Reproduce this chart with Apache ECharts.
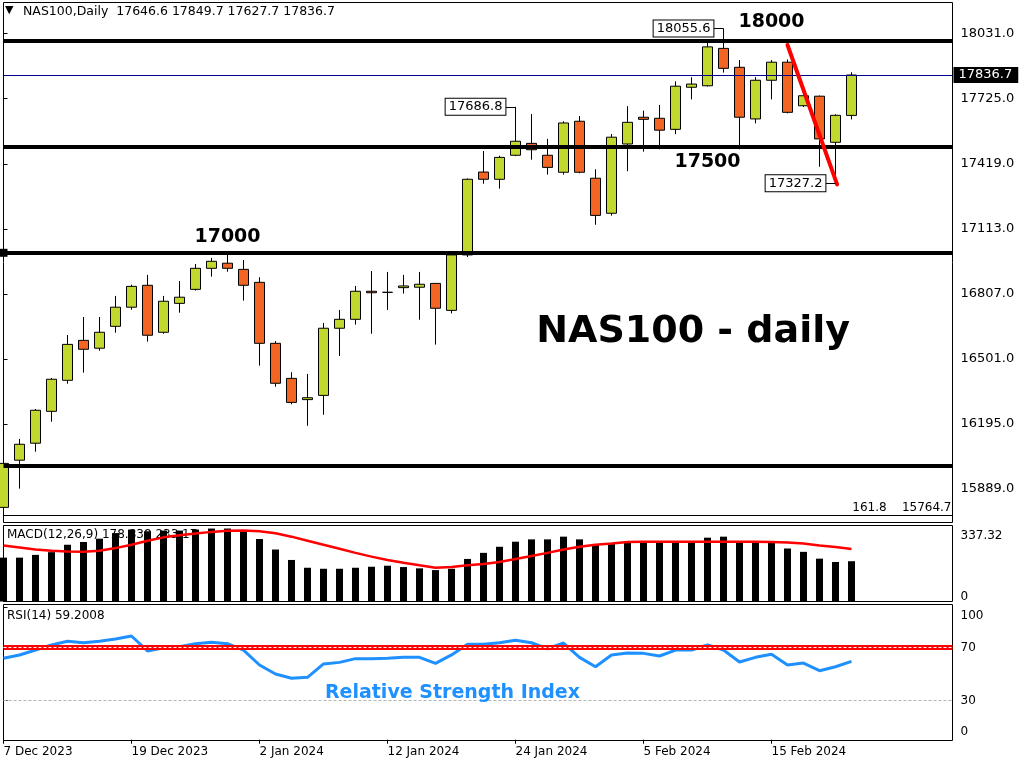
<!DOCTYPE html>
<html><head><meta charset="utf-8">
<script src="https://cdn.jsdelivr.net/npm/echarts@6/dist/echarts.min.js"></script>
<style>html,body{margin:0;padding:0;background:#fff;}#c{width:1024px;height:768px;}</style>
</head><body><div id="c"></div>
<script>
// ---------------- data ----------------
const dates = ['7 Dec 2023','8 Dec 2023','11 Dec 2023','12 Dec 2023','13 Dec 2023','14 Dec 2023','15 Dec 2023','18 Dec 2023',
 '19 Dec 2023','20 Dec 2023','21 Dec 2023','22 Dec 2023','26 Dec 2023','27 Dec 2023','28 Dec 2023','29 Dec 2023',
 '2 Jan 2024','3 Jan 2024','4 Jan 2024','5 Jan 2024','8 Jan 2024','9 Jan 2024','10 Jan 2024','11 Jan 2024',
 '12 Jan 2024','15 Jan 2024','16 Jan 2024','17 Jan 2024','18 Jan 2024','19 Jan 2024','22 Jan 2024','23 Jan 2024',
 '24 Jan 2024','25 Jan 2024','26 Jan 2024','29 Jan 2024','30 Jan 2024','31 Jan 2024','1 Feb 2024','2 Feb 2024',
 '5 Feb 2024','6 Feb 2024','7 Feb 2024','8 Feb 2024','9 Feb 2024','12 Feb 2024','13 Feb 2024','14 Feb 2024',
 '15 Feb 2024','16 Feb 2024','19 Feb 2024','20 Feb 2024','21 Feb 2024','22 Feb 2024'];
const opens  = [15802,16024,16104,16254,16400,16588,16551,16654,16744,16847,16626,16762,16828,16927,16951,16922,
 16861,16574,16409,16309,16329,16645,16687,16819,16814,16836,16838,16856,16729,16990,17380,17346,
 17459,17515,17459,17379,17619,17351,17186,17512,17638,17633,17581,17779,17786,17962,17873,17630,
 17812,17897,17692,17737,17520,17646.6];
const highs  = [16059,16124,16265,16411,16613,16698,16698,16797,16850,16896,16797,16867,16947,16976,16998,16966,
 16885,16585,16438,16430,16670,16731,16844,16914,16910,16896,16910,16858,16995,17350,17479,17457,
 17686.8,17653,17536,17619,17644,17393,17559,17690,17669,17696,17807,17826,17989,18055.6,17907,17827,
 17907,17910,17766,17740,17652,17849.7];
const lows   = [15790,15890,16064,16205,16384,16436,16539,16624,16732,16582,16619,16718,16822,16888,16911,16775,
 16469,16370,16287,16186,16238,16514,16662,16619,16731,16808,16685,16568,16715,16980,17325,17302,
 17455,17438,17368,17368,17374,17132,17175,17384,17476,17487,17558,17722,17782,17848,17487,17609,
 17722,17656,17686,17405,17327.2,17627.7];
const closes = [16009,16099,16259,16405,16569,16546,16626,16744,16842,16612,16772,16791,16927,16960,16927,16847,
 16574,16386,16296,16318,16645,16687,16819,16812,16814,16844,16852,16739,16990,17346,17346,17449,
 17525,17485,17402,17611,17379,17176,17544,17614,17628,17577,17784,17794,17969,17868,17638,17812,
 17897,17661,17739,17536,17647,17836.7];
const macdHist = [194.7,194.7,206.9,219.0,251.9,264.0,278.9,303.6,319.3,311.7,314.8,314.8,319.3,323.8,323.8,309.0,
 277.5,230.7,184.4,149.8,145.3,145.3,149.8,154.3,158.8,152.9,147.1,139.4,145.3,188.9,215.9,242.9,
 265.4,275.7,275.7,287.8,275.7,255.0,256.4,264.0,264.0,264.0,264.0,264.0,283.3,287.8,264.0,264.0,
 264.0,235.2,220.4,190.2,175.4,178.8];
const macdSignal = [248.7,239.7,230.7,224.9,221.7,220.4,224.9,237.0,251.9,269.9,284.7,293.7,301.3,309.0,313.5,314.8,
 311.7,302.7,287.8,269.9,251.9,233.9,215.9,199.2,184.4,172.3,160.6,149.8,152.9,160.6,166.4,175.4,
 188.9,202.4,215.9,230.7,242.9,251.9,257.7,264.0,265.4,265.4,265.4,265.4,265.4,265.4,265.4,265.4,
 264.0,262.2,257.7,248.7,241.5,233.2];
const rsi = [61.5,64.0,67.7,71.5,74.3,73.2,74.3,76.0,78.3,67.0,69.5,70.2,72.5,73.5,72.5,67.7,
 56.4,49.6,46.4,47.1,57.2,58.4,61.2,61.2,61.5,62.2,62.2,57.7,64.0,72.0,72.0,73.2,
 75.1,73.2,68.7,73.0,62.2,55.1,64.0,65.5,65.2,63.2,67.7,67.7,71.5,67.7,58.7,62.2,
 64.5,56.4,57.9,52.1,55.1,59.2008];
const priceTicks = [15889,16195,16501,16807,17113,17419,17725,18031];
const macdTicks = [0,337.32];
const rsiTicks = [0,30,70,100];
const rsiLevels = [70,30];
const dateTickIdx = [0,8,16,24,32,40,48];
const levels = [18000,17500,17000,16000];
const fibRatio = '161.8', fibPrice = 15764.7;
const trendLine = [[49,17978],[52.1,17322]];
const priceNotes = [[32,17686.8],[45,18055.6],[52,17327.2]];
const textNotes = [['18000',48.0,18084],['17500',44.0,17429],['17000',14.0,17072],['NAS100 - daily',43.1,16628]];
const rsiNote = ['Relative Strength Index',28.06,35];
const macdLegend = 'MACD(12,26,9) 178.838 233.17';
const rsiLegend = 'RSI(14) 59.2008';

// ---------------- chart ----------------
const N = dates.length;
const FONT = 'DejaVu Sans';
const PX_PER_BAR = 16, PLOT_W = 949;
const XMAX = PLOT_W / PX_PER_BAR;
const chart = echarts.init(document.getElementById('c'));

const gridBase = {left:3.5, width:PLOT_W, show:true, borderColor:'#000', borderWidth:1, backgroundColor:'transparent'};
const textStyle = {color:'#000', fontSize:12, fontFamily:FONT};

const bigSizes = {'18000':19,'17500':19,'17000':19,'NAS100 - daily':38};

const mlData = [];
levels.forEach(v => mlData.push({yAxis:v, lineStyle:{color:'#000', width:4, type:'solid'},
  symbol: v===17000 ? 'rect':'none', symbolSize: 8}));
mlData.push({yAxis: closes[N-1], lineStyle:{color:'#00008B', width:1, type:'solid'},
  label:{show:true, position:'end', formatter: closes[N-1].toFixed(1), backgroundColor:'#000', color:'#fff',
  padding:[2,6,1,5], distance:1, fontSize:13, fontFamily:FONT}});
mlData.push({yAxis: fibPrice, lineStyle:{color:'#000', width:1, type:'solid'},
  label:{show:true, position:'insideEndTop', formatter: fibRatio + '    ' + fibPrice.toFixed(1), color:'#000', distance:1, fontSize:12, fontFamily:FONT}});
mlData.push([{coord:trendLine[0]},{coord:trendLine[1], lineStyle:{color:'#ff0000', width:4, type:'solid', cap:'round'}}]);
priceNotes.forEach(([i,p]) => mlData.push([{coord:[i,p]},{coord:[i-0.6,p], lineStyle:{color:'#000', width:1, type:'solid'}}]));

const mpData = [];
textNotes.forEach(([t,i,p]) => mpData.push({coord:[i,p], value:t,
  label:{show:true, position:'inside', formatter:t, fontSize:bigSizes[t], fontWeight:'bold', fontFamily:FONT, color:'#000'}}));
priceNotes.forEach(([i,p]) => mpData.push({coord:[i-0.6,p], value:p,
  label:{show:true, position:'left', distance:0, formatter:p.toFixed(1), backgroundColor:'#fff', borderColor:'#000', borderWidth:1,
  padding:[2,3,1,3], fontSize:13, fontFamily:FONT, color:'#000'}}));

const option = {
  animation:false,
  backgroundColor:'#fff',
  grid:[
    Object.assign({top:2.5, height:520}, gridBase),
    Object.assign({top:525.5, height:76}, gridBase),
    Object.assign({top:604.5, height:136}, gridBase)
  ],
  xAxis:[0,1,2].map(g => ({
    type:'value', gridIndex:g, min:0, max:XMAX, show: g===2,
    axisLine:{show:false}, splitLine:{show:false},
    axisTick:{show:true, customValues:dateTickIdx, length:4, lineStyle:{color:'#000'}},
    axisLabel:Object.assign({customValues:dateTickIdx, formatter:v => dates[v] || '', align:'left', margin:5}, textStyle)
  })),
  yAxis:[
    {type:'value', gridIndex:0, position:'right', min:15730.8, max:18177.9, splitLine:{show:false}, axisLine:{show:false},
     axisTick:{show:true, customValues:priceTicks, length:4, lineStyle:{color:'#000'}},
     axisLabel:Object.assign({customValues:priceTicks, formatter:v => v.toFixed(1), margin:8}, textStyle, {fontSize:13})},
    {type:'value', gridIndex:1, position:'right', min:0, max:337.32, splitLine:{show:false}, axisLine:{show:false},
     axisTick:{show:true, customValues:macdTicks, length:4, lineStyle:{color:'#000'}},
     axisLabel:Object.assign({customValues:macdTicks, margin:8,
       formatter:v => v===0 ? '{b|0}' : '{t|' + v.toFixed(2) + '}',
       rich:{t:{padding:[21,0,0,0], fontSize:12, fontFamily:FONT, color:'#000'}, b:{padding:[0,0,10,0], fontSize:12, fontFamily:FONT, color:'#000'}}}, textStyle)},
    {type:'value', gridIndex:2, position:'right', min:-0.566, max:102.08, splitLine:{show:false}, axisLine:{show:false},
     axisTick:{show:true, customValues:rsiTicks, length:4, lineStyle:{color:'#000'}},
     axisLabel:Object.assign({customValues:rsiTicks, margin:8,
       formatter:v => v===100 ? '{t|100}' : (v===0 ? '{b|0}' : '{m|' + v + '}'),
       rich:{t:{padding:[17,0,0,0], fontSize:12, fontFamily:FONT, color:'#000'},
             b:{padding:[0,0,16,0], fontSize:12, fontFamily:FONT, color:'#000'},
             m:{padding:[2,0,0,0], fontSize:12, fontFamily:FONT, color:'#000'}}}, textStyle)}
  ],
  series:[
    {type:'candlestick', xAxisIndex:0, yAxisIndex:0, barWidth:10,
     data: dates.map((d,i) => [i, opens[i], closes[i], lows[i], highs[i]]),
     itemStyle:{color:'#C3D82F', color0:'#F26522', borderColor:'#000', borderColor0:'#000', borderColorDoji:'#000', borderWidth:1},
     markLine:{silent:true, symbol:['none','none'], label:{show:false}, data: mlData},
     markPoint:{silent:true, symbol:'circle', symbolSize:1, itemStyle:{color:'rgba(0,0,0,0)'}, data: mpData}
    },
    {type:'bar', xAxisIndex:1, yAxisIndex:1, barWidth:7, itemStyle:{color:'#000'},
     data: macdHist.map((v,i) => [i,v])},
    {type:'line', xAxisIndex:1, yAxisIndex:1, showSymbol:false, lineStyle:{color:'#ff0000', width:2.5},
     data: macdSignal.map((v,i) => [i,v])},
    {type:'line', xAxisIndex:2, yAxisIndex:2, showSymbol:false, lineStyle:{color:'#1E90FF', width:3},
     data: rsi.map((v,i) => [i,v]),
     markLine:{silent:true, symbol:['none','none'], label:{show:false}, data:[
       {yAxis:rsiLevels[0], lineStyle:{color:'#ff0000', width:5, type:'solid'}},
       {yAxis:rsiLevels[0], lineStyle:{color:'#fff', width:1, type:[3,2]}},
       {yAxis:rsiLevels[1], lineStyle:{color:'#b4b4b4', width:1, type:[3,2]}}
     ]},
     markPoint:{silent:true, symbol:'circle', symbolSize:1, itemStyle:{color:'rgba(0,0,0,0)'}, data:[
       {coord:[rsiNote[1], rsiNote[2]], label:{show:true, position:'inside', formatter:rsiNote[0], fontSize:19, fontWeight:'bold', fontFamily:FONT, color:'#1E90FF'}}
     ]}
    }
  ],
  graphic:[
    {type:'text', left:5, top:5, style:{text:'\u25BC', font:'11px ' + FONT, fill:'#000'}},
    {type:'text', left:23, top:5, style:{text:'NAS100,Daily  ' + [opens[N-1],highs[N-1],lows[N-1],closes[N-1]].map(v=>v.toFixed(1)).join(' '), font:'12.5px ' + FONT, fill:'#000'}},
    {type:'text', left:7, top:529, z:0, style:{text:macdLegend, font:'12px ' + FONT, fill:'#000'}},
    {type:'text', left:7, top:610, z:0, style:{text:rsiLegend, font:'12px ' + FONT, fill:'#000'}}
  ]
};
chart.setOption(option);
</script></body></html>
